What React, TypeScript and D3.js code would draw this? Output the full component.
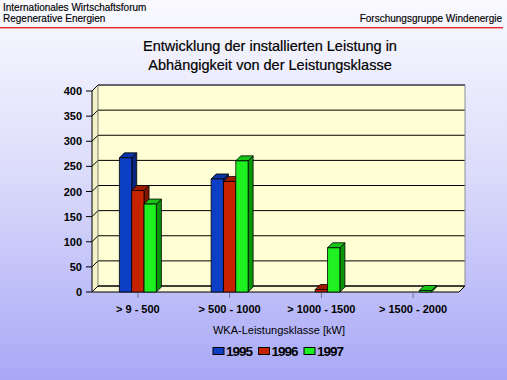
import React from "react";
import * as d3 from "d3";

const categories = ["> 9 - 500", "> 500 - 1000", "> 1000 - 1500", "> 1500 - 2000"];
const series = ["1995", "1996", "1997"];
const values1995 = [267, 225, 0, 0];
const values1996 = [202, 220, 5, 0];
const values1997 = [175, 261, 88, 3];
const yTicks = [0, 50, 100, 150, 200, 250, 300, 350, 400];
const titleLines = ["Entwicklung der installierten Leistung in", "Abhängigkeit von der Leistungsklasse"];
const xAxisTitle = "WKA-Leistungsklasse [kW]";

const W = 507;
const H = 380;
const FRONT_L = 92;
const FRONT_R = 459;
const FRONT_B = 292;
const FRONT_T = 91;
const WALL_D = 6;
const BAR_D = 5;
const GROUP_W = 37;

const palette: Record<string, { front: string; side: string; top: string }> = {
  "1995": { front: "#0d3fc6", side: "#08267e", top: "#0a35a6" },
  "1996": { front: "#c62200", side: "#7e1600", top: "#a01c00" },
  "1997": { front: "#1ff01f", side: "#0a940a", top: "#17c417" },
};

const FONT = "'Liberation Sans', Arial, sans-serif";

export default function App() {
  const seriesValues = [values1995, values1996, values1997];
  const y = d3.scaleLinear().domain([0, 400]).range([FRONT_B, FRONT_T]);
  const x0 = d3.scaleBand<string>().domain(categories).range([FRONT_L, FRONT_R]);
  const x1 = d3.scaleBand<string>().domain(series).range([0, GROUP_W]);
  const bw = x1.bandwidth();
  const center = (c: string) => (x0(c) as number) + x0.bandwidth() / 2;

  const backL = FRONT_L + WALL_D;
  const backR = FRONT_R + WALL_D;
  const backB = FRONT_B - WALL_D;
  const backT = FRONT_T - WALL_D;

  const pts = (p: number[][]) => p.map((q) => q.join(",")).join(" ");

  return (
    <svg width={W} height={H} style={{ position: "absolute", left: 0, top: 0 }} fontFamily={FONT}>
      <defs>
        <linearGradient id="bg" x1="0" y1="0" x2="0" y2="1">
          <stop offset="0" stopColor="#fafaff" />
          <stop offset="0.45" stopColor="#dcdcfb" />
          <stop offset="1" stopColor="#a8a8f7" />
        </linearGradient>
      </defs>
      <rect x={0} y={0} width={W} height={H} fill="url(#bg)" />

      {/* header */}
      <text x={3} y={11} fontSize={10} fill="#000" stroke="#000" strokeWidth={0.15}>Internationales Wirtschaftsforum</text>
      <text x={3} y={22} fontSize={10} fill="#000" stroke="#000" strokeWidth={0.15}>Regenerative Energien</text>
      <text x={502} y={22} fontSize={10} fill="#000" stroke="#000" strokeWidth={0.15} textAnchor="end">Forschungsgruppe Windenergie</text>
      <line x1={0} x2={503} y1={27.5} y2={27.5} stroke="#e02828" strokeWidth={1} />
      <line x1={0} x2={503} y1={28.5} y2={28.5} stroke="#f2a0b0" strokeWidth={1} />

      {/* title */}
      {titleLines.map((t, i) => (
        <text key={i} x={270} y={51 + i * 19} fontSize={14.5} textAnchor="middle" fill="#000" stroke="#000" strokeWidth={0.2}>{t}</text>
      ))}

      {/* walls */}
      <rect x={backL} y={backT} width={backR - backL} height={backB - backT} fill="#ffffd6" />
      <polygon points={pts([[FRONT_L, FRONT_T], [backL, backT], [backL, backB], [FRONT_L, FRONT_B]])} fill="#f2f2c6" />
      <polygon points={pts([[FRONT_L, FRONT_B], [FRONT_R, FRONT_B], [backR, backB], [backL, backB]])} fill="#fafad2" stroke="#000" strokeWidth={1} />

      {/* gridlines */}
      {yTicks.map((v) => (
        <g key={v}>
          <line x1={backL} x2={backR} y1={y(v) - WALL_D} y2={y(v) - WALL_D} stroke="#000" strokeWidth={1} />
          <line x1={FRONT_L} x2={backL} y1={y(v)} y2={y(v) - WALL_D} stroke="#000" strokeWidth={1} />
        </g>
      ))}
      <line x1={backR} x2={backR} y1={backT} y2={backB} stroke="#8a8a9a" strokeWidth={1} />
      <line x1={backL} x2={backR} y1={backT} y2={backT} stroke="#505068" strokeWidth={1.2} />
      <line x1={backL} x2={backL} y1={backT} y2={backB} stroke="#606060" strokeWidth={0.8} />

      {/* y axis */}
      <line x1={FRONT_L} x2={FRONT_L} y1={FRONT_T} y2={FRONT_B} stroke="#000" strokeWidth={1} />
      {yTicks.map((v) => (
        <g key={"t" + v}>
          <line x1={86} x2={FRONT_L} y1={y(v)} y2={y(v)} stroke="#000" strokeWidth={1} />
          <text x={82} y={y(v) + 4} fontSize={11} fontWeight="bold" textAnchor="end" fill="#000">{v}</text>
        </g>
      ))}

      {/* x ticks & labels */}
      {categories.map((c) => (
        <g key={c}>
          <line x1={center(c)} x2={center(c)} y1={FRONT_B} y2={FRONT_B + 6} stroke="#707080" strokeWidth={1} />
          <text x={center(c)} y={313} fontSize={11} fontWeight="bold" textAnchor="middle" fill="#000">{c}</text>
        </g>
      ))}

      {/* bars */}
      {categories.map((c, ci) => {
        const gx = center(c) - GROUP_W / 2;
        return (
          <g key={"b" + c}>
            {series.map((s, si) => {
              const v = seriesValues[si][ci];
              if (!v) return null;
              const col = palette[s];
              const x = gx + (x1(s) as number);
              const yt = y(v);
              const yb = y(0);
              return (
                <g key={s} stroke="#000" strokeWidth={0.8} strokeLinejoin="round">
                  <polygon points={pts([[x + bw, yt], [x + bw + BAR_D, yt - BAR_D], [x + bw + BAR_D, yb - BAR_D], [x + bw, yb]])} fill={col.side} />
                  <polygon points={pts([[x, yt], [x + BAR_D, yt - BAR_D], [x + bw + BAR_D, yt - BAR_D], [x + bw, yt]])} fill={col.top} />
                  <rect x={x} y={yt} width={bw} height={yb - yt} fill={col.front} />
                </g>
              );
            })}
          </g>
        );
      })}

      {/* axis title */}
      <text x={279} y={334} fontSize={11} textAnchor="middle" fill="#000">{xAxisTitle}</text>

      {/* legend */}
      {series.map((s, i) => {
        const lx = 213 + i * 45.5;
        return (
          <g key={"l" + s}>
            <rect x={lx} y={347.5} width={11} height={7} fill={palette[s].front} stroke="#000" strokeWidth={1} />
            <text x={lx + 13} y={355.5} fontSize={13.5} fontWeight="bold" letterSpacing={-1} fill="#000">{s}</text>
          </g>
        );
      })}
    </svg>
  );
}
